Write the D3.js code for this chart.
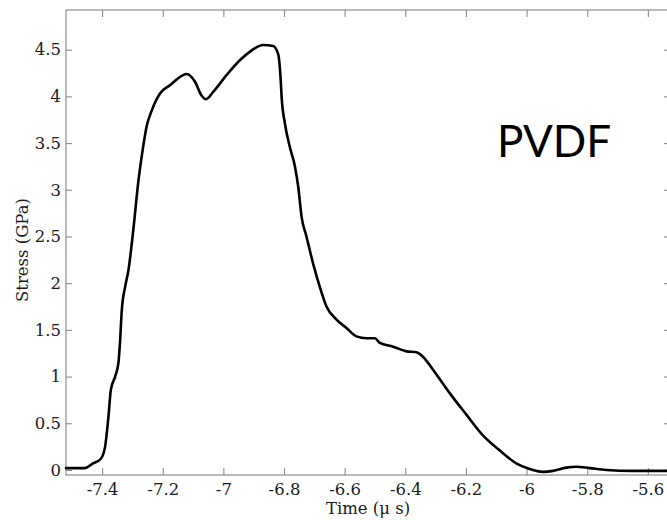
<!DOCTYPE html>
<html>
<head>
<meta charset="utf-8">
<script src="https://cdn.jsdelivr.net/npm/d3@7"></script>
<style>
  html, body { margin: 0; padding: 0; background: #fff; }
  svg { display: block; }
</style>
</head>
<body>
<svg id="chart" width="667" height="520"></svg>
<script>
// Data
const timeUs = [-7.519, -7.456, -7.430, -7.404, -7.390, -7.379, -7.371, -7.357, -7.346, -7.341, -7.335, -7.324, -7.313,
  -7.297, -7.280, -7.266, -7.253, -7.236, -7.209, -7.176, -7.121, -7.094, -7.072, -7.057, -7.033, -6.989, -6.945, -6.912,
  -6.869, -6.836, -6.819, -6.811, -6.808, -6.797, -6.781, -6.764, -6.753, -6.742, -6.726, -6.704, -6.682, -6.660, -6.627,
  -6.594, -6.561, -6.528, -6.500, -6.484, -6.440, -6.396, -6.363, -6.341, -6.308, -6.253, -6.198, -6.144, -6.089, -6.034,
  -5.990, -5.946, -5.913, -5.869, -5.836, -5.792, -5.737, -5.649, -5.538];
const stressGPa = [0.02, 0.02, 0.07, 0.12, 0.25, 0.57, 0.86, 1.00, 1.15, 1.36, 1.71, 1.96, 2.14,
  2.57, 3.10, 3.43, 3.68, 3.85, 4.03, 4.12, 4.24, 4.16, 4.01, 3.97, 4.05, 4.23, 4.39, 4.48,
  4.55, 4.54, 4.45, 4.18, 4.00, 3.71, 3.46, 3.25, 3.03, 2.71, 2.50, 2.21, 1.96, 1.75, 1.61,
  1.52, 1.43, 1.41, 1.41, 1.36, 1.32, 1.27, 1.26, 1.21, 1.07, 0.82, 0.59, 0.37, 0.21, 0.07,
  0.01, -0.02, -0.01, 0.025, 0.035, 0.02, 0.00, -0.01, -0.01];
const xTicks = [-7.4, -7.2, -7.0, -6.8, -6.6, -6.4, -6.2, -6.0, -5.8, -5.6];
const xTickLabels = ["-7.4", "-7.2", "-7", "-6.8", "-6.6", "-6.4", "-6.2", "-6", "-5.8", "-5.6"];
const yTicks = [0, 0.5, 1, 1.5, 2, 2.5, 3, 3.5, 4, 4.5];
const yTickLabels = ["0", "0.5", "1", "1.5", "2", "2.5", "3", "3.5", "4", "4.5"];
const xDomain = [-7.519, -5.527];
const yDomain = [-0.054, 4.925];
const xLabel = "Time (\u03bc s)";
const yLabel = "Stress (GPa)";
const annotation = "PVDF";

const svg = d3.select("#chart");
const mLeft = 66, mRight = 670, mTop = 10, mBottom = 475;
const x = d3.scaleLinear().domain(xDomain).range([mLeft, mRight]);
const y = d3.scaleLinear().domain(yDomain).range([mBottom, mTop]);

const axisColor = "#8a8a8a";
const tickFont = "'DejaVu Serif', serif";
const tickSize = "16.5px";

// box
svg.append("rect").attr("x", mLeft).attr("y", mTop).attr("width", mRight - mLeft).attr("height", mBottom - mTop)
  .attr("fill", "none").attr("stroke", axisColor).attr("stroke-width", 1.2);

function styleAxis(g) {
  g.select(".domain").remove();
  g.selectAll(".tick line").attr("stroke", axisColor).attr("stroke-width", 1.1);
  g.selectAll(".tick text").attr("fill", "#1a1a1a").style("font-family", tickFont).style("font-size", tickSize);
}

// bottom axis (ticks inward)
const xAxis = d3.axisBottom(x).tickValues(xTicks).tickFormat((d, i) => xTickLabels[i]).tickSizeInner(-7).tickPadding(8);
svg.append("g").attr("transform", `translate(0,${mBottom})`).call(xAxis).call(styleAxis);
// top axis ticks
svg.append("g").attr("transform", `translate(0,${mTop})`)
  .call(d3.axisTop(x).tickValues(xTicks).tickFormat("").tickSizeInner(-7)).call(styleAxis);
// left axis
const yAxis = d3.axisLeft(y).tickValues(yTicks).tickFormat((d, i) => yTickLabels[i]).tickSizeInner(-6).tickPadding(5);
svg.append("g").attr("transform", `translate(${mLeft},0)`).call(yAxis).call(styleAxis);
// right axis ticks
svg.append("g").attr("transform", `translate(${mRight},0)`)
  .call(d3.axisRight(y).tickValues(yTicks).tickFormat("").tickSizeInner(-6)).call(styleAxis);

// curve
const pts = timeUs.map((t, i) => [t, stressGPa[i]]);
const line = d3.line().x(d => x(d[0])).y(d => y(d[1])).curve(d3.curveMonotoneX);
svg.append("path").attr("d", line(pts)).attr("fill", "none").attr("stroke", "#000")
  .attr("stroke-width", 2.6).attr("stroke-linejoin", "round").attr("stroke-linecap", "round");

// labels
svg.append("text").attr("x", (mLeft + mRight) / 2).attr("y", 514).attr("text-anchor", "middle")
  .style("font-family", tickFont).style("font-size", tickSize).attr("fill", "#1a1a1a").text(xLabel);
svg.append("text").attr("transform", `translate(28,250) rotate(-90)`).attr("text-anchor", "middle")
  .style("font-family", tickFont).style("font-size", tickSize).attr("fill", "#1a1a1a").text(yLabel);
svg.append("text").attr("x", 497).attr("y", 157)
  .style("font-family", "Lato, sans-serif").style("font-size", "44px").attr("fill", "#000").text(annotation);
</script>
</body>
</html>
